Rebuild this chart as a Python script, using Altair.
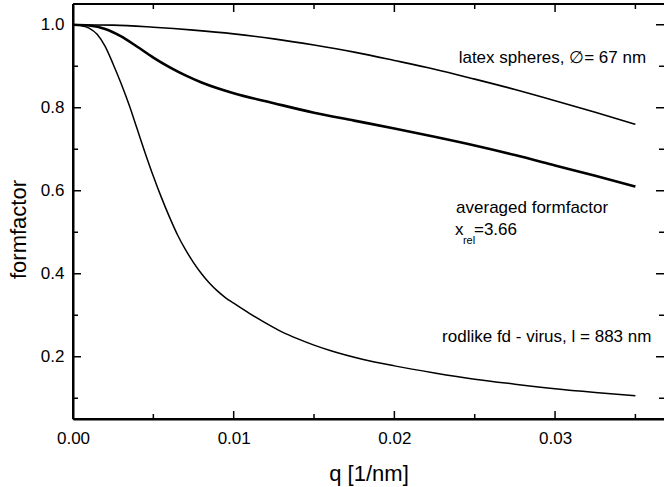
import altair as alt
import pandas as pd

# ---- data ----
q_latex = [0.0, 0.0025, 0.005, 0.0075, 0.01, 0.0125, 0.015, 0.0175, 0.02,
           0.0225, 0.025, 0.0275, 0.03, 0.0325, 0.035]
f_latex = [1.0, 0.999, 0.994, 0.987, 0.978, 0.966, 0.951, 0.934, 0.914,
           0.893, 0.869, 0.844, 0.817, 0.789, 0.760]

q_avg = [0.0, 0.001, 0.002, 0.003, 0.004, 0.005, 0.006, 0.007, 0.008, 0.009,
         0.010, 0.0125, 0.015, 0.0175, 0.020, 0.0225, 0.025, 0.0275, 0.030,
         0.0325, 0.035]
f_avg = [1.0, 0.998, 0.990, 0.972, 0.947, 0.921, 0.898, 0.878, 0.861, 0.847,
         0.835, 0.811, 0.788, 0.769, 0.750, 0.730, 0.709, 0.686, 0.661,
         0.636, 0.610]

q_rod = [0.0, 0.0005, 0.001, 0.0015, 0.002, 0.0025, 0.003, 0.0035, 0.004,
         0.0045, 0.005, 0.0055, 0.006, 0.0065, 0.007, 0.0075, 0.008, 0.0085,
         0.009, 0.0095, 0.010, 0.011, 0.012, 0.013, 0.014, 0.015, 0.016,
         0.018, 0.020, 0.0225, 0.025, 0.0275, 0.030, 0.0325, 0.035]
f_rod = [1.0, 0.998, 0.992, 0.977, 0.948, 0.905, 0.858, 0.806, 0.748,
         0.690, 0.635, 0.584, 0.537, 0.494, 0.458, 0.427, 0.400, 0.377,
         0.358, 0.342, 0.329, 0.304, 0.281, 0.260, 0.243, 0.228, 0.215,
         0.194, 0.178, 0.161, 0.146, 0.134, 0.123, 0.114, 0.106]

x_major = [0.0, 0.01, 0.02, 0.03]
x_minor = [0.005, 0.015, 0.025, 0.035]
y_major = [0.2, 0.4, 0.6, 0.8, 1.0]
y_minor = [0.1, 0.3, 0.5, 0.7, 0.9]

ann_text = ["latex spheres, \u2205= 67 nm", "averaged formfactor",
            "rodlike fd - virus, l = 883 nm"]
ann_q = [0.0240, 0.02384, 0.02297]
ann_f = [0.9086, 0.5464, 0.2367]

xrel_q = [0.02377]
xrel_f = [0.4934]

# ---- layout ----
W, H = 591, 415
FONT = "Liberation Sans"
xs = alt.Scale(domain=[0, 0.03678], nice=False, zero=False)
ys = alt.Scale(domain=[0.05, 1.05], nice=False, zero=False)

xaxis = alt.Axis(title="q [1/nm]", values=x_major, format=".2f", tickSize=0,
                 labelPadding=11, labelFontSize=17, labelFont=FONT,
                 labelFlush=False, labelOverlap=False,
                 labelColor="black", titleFont=FONT, titleFontSize=22,
                 titleFontWeight="normal", titleColor="black",
                 titleY=61, titleBaseline="alphabetic",
                 domain=True, domainColor="black", domainWidth=2, grid=False)
yaxis = alt.Axis(title="formfactor", values=y_major, format=".1f", tickSize=0,
                 labelPadding=9, labelFontSize=17, labelFont=FONT,
                 labelFlush=False, labelOverlap=False,
                 labelColor="black", titleFont=FONT, titleFontSize=22,
                 titleFontWeight="normal", titleColor="black",
                 titleX=-48, titleY=225, titleBaseline="alphabetic",
                 titleAlign="center", titleAngle=270,
                 domain=True, domainColor="black", domainWidth=2, grid=False)


def X():
    return alt.X("q:Q", scale=xs, axis=xaxis)


def Y():
    return alt.Y("f:Q", scale=ys, axis=yaxis)


def curve(qv, fv, width):
    df = pd.DataFrame({"q": qv, "f": fv})
    return alt.Chart(df).mark_line(color="black", strokeWidth=width,
                                   interpolate="monotone").encode(x=X(), y=Y())


latex_line = curve(q_latex, f_latex, 1.6)
avg_line = curve(q_avg, f_avg, 2.6)
rod_line = curve(q_rod, f_rod, 1.5)


# ---- inward ticks ----
def yticks(vals, length, right=False):
    df = pd.DataFrame({"f": vals})
    x0 = W if right else 0
    x1 = W - length if right else length
    return alt.Chart(df).mark_rule(color="black", strokeWidth=1.5).encode(
        y=Y(), x=alt.value(x0), x2=alt.value(x1))


def xticks(vals, length, top=False):
    df = pd.DataFrame({"q": vals})
    y0 = 0 if top else H
    y1 = length if top else H - length
    return alt.Chart(df).mark_rule(color="black", strokeWidth=1.5).encode(
        x=X(), y=alt.value(y0), y2=alt.value(y1))


ticks = [yticks(y_major, 8), yticks(y_minor, 5),
         yticks(y_major, 8, True), yticks(y_minor, 5, True),
         xticks(x_major, 8), xticks(x_minor, 5),
         xticks(x_major, 8, True), xticks(x_minor, 5, True)]

frame_df = pd.DataFrame({"q": [0]})
top_frame = alt.Chart(frame_df).mark_rule(color="black", strokeWidth=2).encode(
    x=alt.value(0), x2=alt.value(W), y=alt.value(0))
left_frame = alt.Chart(frame_df).mark_rule(color="black", strokeWidth=2).encode(
    x=alt.value(0), y=alt.value(0), y2=alt.value(H))
bottom_frame = alt.Chart(frame_df).mark_rule(color="black", strokeWidth=2).encode(
    x=alt.value(0), x2=alt.value(W), y=alt.value(H))

# ---- annotations ----
ann_df = pd.DataFrame({"q": ann_q, "f": ann_f, "t": ann_text})
ann = alt.Chart(ann_df).mark_text(align="left", baseline="alphabetic",
                                  font=FONT, fontSize=17, color="black").encode(
    x=X(), y=Y(), text="t:N")

xrel_df = pd.DataFrame({"q": xrel_q, "f": xrel_f})
xrel_x = alt.Chart(xrel_df).mark_text(align="left", baseline="alphabetic",
                                      font=FONT, fontSize=17, color="black",
                                      text="x").encode(x=X(), y=Y())
xrel_sub = alt.Chart(xrel_df).mark_text(align="left", baseline="alphabetic",
                                        font=FONT, fontSize=11, color="black",
                                        text="rel", dx=8, dy=9).encode(x=X(), y=Y())
xrel_val = alt.Chart(xrel_df).mark_text(align="left", baseline="alphabetic",
                                        font=FONT, fontSize=17, color="black",
                                        text="=3.66", dx=19).encode(x=X(), y=Y())

chart = alt.layer(
    latex_line, avg_line, rod_line, *ticks, top_frame, left_frame, bottom_frame,
    ann, xrel_x, xrel_sub, xrel_val
).properties(
    width=W, height=H,
    padding={"left": 73, "top": 4, "right": 0, "bottom": 68},
    autosize=alt.AutoSizeParams(type="none"),
    background="white",
).configure_view(stroke=None)

chart.save("out.html", embed_options={"renderer": "svg", "actions": False})
